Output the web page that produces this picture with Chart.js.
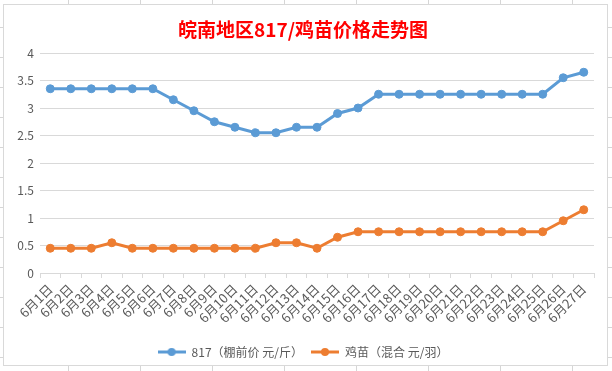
<!DOCTYPE html>
<html>
<head>
<meta charset="utf-8">
<script src="https://cdn.jsdelivr.net/npm/chart.js@4"></script>
<style>
  html, body { margin: 0; padding: 0; }
  body {
    width: 612px; height: 371px; position: relative; overflow: hidden;
    background-color: #fff;
    /* 엑셀 시트 격자 */
    background-image: linear-gradient(to right, #d6d6d6 1px, transparent 1px),
                      linear-gradient(to bottom, #d6d6d6 1px, transparent 1px);
    background-size: 72px 100%, 100% 30px;
    background-position: 68px 0, 0 27px;
  }
  #box {
    position: absolute; left: 3px; top: 4px; width: 605px; height: 362px;
    box-sizing: border-box; border: 1px solid #d9d9d9; background: #fff;
  }
  #myChart { position: absolute; left: 0; top: 0; }
</style>
</head>
<body>
<div id="box"></div>
<canvas id="myChart" width="612" height="371"></canvas>
<script>
const days = [
  "6月1日", "6月2日", "6月3日", "6月4日", "6月5日", "6月6日", "6月7日", "6月8日", "6月9日",
  "6月10日", "6月11日", "6月12日", "6月13日", "6月14日", "6月15日", "6月16日", "6月17日", "6月18日",
  "6月19日", "6月20日", "6月21日", "6月22日", "6月23日", "6月24日", "6月25日", "6月26日", "6月27日"
];

// 817 棚前价 (元/斤)
const price817 = [
  3.35, 3.35, 3.35, 3.35, 3.35, 3.35, 3.15, 2.95, 2.75, 2.65, 2.55, 2.55, 2.65, 2.65,
  2.9, 3.0, 3.25, 3.25, 3.25, 3.25, 3.25, 3.25, 3.25, 3.25, 3.25, 3.55, 3.65
];

// 鸡苗 混合 (元/羽)
const chickPrice = [
  0.45, 0.45, 0.45, 0.55, 0.45, 0.45, 0.45, 0.45, 0.45, 0.45, 0.45, 0.55, 0.55, 0.45,
  0.65, 0.75, 0.75, 0.75, 0.75, 0.75, 0.75, 0.75, 0.75, 0.75, 0.75, 0.95, 1.15
];

const yTicks = [0, 0.5, 1, 1.5, 2, 2.5, 3, 3.5, 4];

const seriesNames = ["817（棚前价 元/斤）", "鸡苗（混合 元/羽）"];
const seriesColors = ["#5b9bd5", "#ed7d31"];

const fontFamily = "'Noto Sans CJK SC', 'Noto Sans', sans-serif";

// 범례용 선+점 아이콘
function legendIcon(color) {
  const c = document.createElement("canvas");
  c.width = 28;
  c.height = 10;
  const g = c.getContext("2d");
  g.strokeStyle = color;
  g.lineWidth = 3;
  g.beginPath();
  g.moveTo(0, 5);
  g.lineTo(28, 5);
  g.stroke();
  g.fillStyle = color;
  g.beginPath();
  g.arc(14, 5, 4, 0, Math.PI * 2);
  g.fill();
  return c;
}

const icons = seriesColors.map(legendIcon);

function makeDataset(i, values) {
  return {
    label: seriesNames[i],
    data: values,
    borderColor: seriesColors[i],
    backgroundColor: seriesColors[i],
    pointBackgroundColor: seriesColors[i],
    pointBorderColor: seriesColors[i],
    borderWidth: 3,
    pointRadius: 4,
    pointBorderWidth: 1,
    pointStyle: "circle",
    tension: 0
  };
}

const ctx = document.getElementById('myChart').getContext('2d');

const chart = new Chart(ctx, {
  type: "line",
  data: {
    labels: days,
    datasets: [makeDataset(0, price817), makeDataset(1, chickPrice)]
  },
  options: {
    responsive: false,
    animation: false,
    layout: { padding: { left: 12, right: 18, top: 0, bottom: 3 } },
    scales: {
      x: {
        offset: true,
        grid: {
          offset: true,
          drawOnChartArea: false,
          drawTicks: true,
          tickLength: 5,
          color: "#d9d9d9"
        },
        border: { color: "#d9d9d9" },
        ticks: {
          autoSkip: false,
          minRotation: 45,
          maxRotation: 45,
          padding: 3,
          color: "#595959",
          font: { family: fontFamily, size: 13 }
        },
        afterFit: (scale) => { scale.height = 65; }
      },
      y: {
        min: 0,
        max: 4,
        afterBuildTicks: (scale) => { scale.ticks = yTicks.map(v => ({ value: v })); },
        grid: { color: "#d9d9d9", drawTicks: false },
        border: { display: false },
        ticks: {
          padding: 6,
          color: "#595959",
          font: { family: fontFamily, size: 12 },
          callback: (v) => String(v)
        },
        afterFit: (scale) => { scale.width = 28; }
      }
    },
    plugins: {
      title: {
        display: true,
        text: "皖南地区817/鸡苗价格走势图",
        color: "#ff0000",
        font: { family: fontFamily, size: 19, weight: "bold" },
        padding: { top: 18.6, bottom: 11.6 }
      },
      legend: {
        position: "bottom",
        labels: {
          usePointStyle: true,
          pointStyleWidth: 28,
          padding: 8,
          color: "#595959",
          font: { family: fontFamily, size: 12 },
          generateLabels: (c) => {
            const items = Chart.defaults.plugins.legend.labels.generateLabels(c);
            items.forEach((it, i) => { it.pointStyle = icons[i]; });
            return items;
          }
        }
      },
      tooltip: { enabled: false }
    }
  }
});
</script>
</body>
</html>
